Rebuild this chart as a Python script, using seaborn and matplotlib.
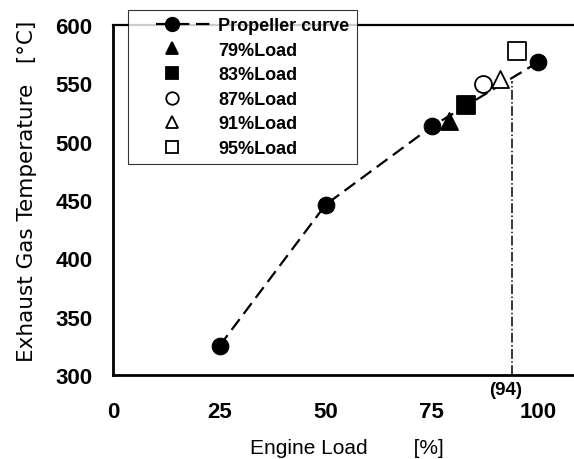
import matplotlib
matplotlib.use("Agg")
import matplotlib.pyplot as plt
import seaborn as sns
import pandas as pd
from matplotlib.lines import Line2D
from matplotlib.legend_handler import HandlerLine2D

# Data
prop_load = [25, 50, 75, 100]
prop_temp = [325, 446, 513, 568]
test_labels = ["79%Load", "83%Load", "87%Load", "91%Load", "95%Load"]
test_load = [79, 83, 87, 91, 95]
test_temp = [518, 531, 549, 554, 578]
test_markers = ["^", "s", "o", "^", "s"]
test_filled = [True, True, False, False, False]
x_ticks = [0, 25, 50, 75, 100]
y_ticks = [300, 350, 400, 450, 500, 550, 600]
mark_load = 94

sns.set_theme(style="white")
plt.rcParams['font.family'] = ['Liberation Sans', 'DejaVu Sans']
plt.rcParams['text.color'] = 'black'
plt.rcParams['xtick.color'] = 'black'
plt.rcParams['ytick.color'] = 'black'
plt.rcParams['xtick.labelcolor'] = 'black'
plt.rcParams['ytick.labelcolor'] = 'black'

fig = plt.figure(figsize=(5.74, 4.6), dpi=100)
ax = fig.add_axes([0.1977, 0.1826, 0.8023, 0.761])

DASH = (0, (6, 3))
df = pd.DataFrame({"load": prop_load, "temp": prop_temp})
sns.lineplot(data=df, x="load", y="temp", ax=ax, color="black", linestyle=DASH,
             linewidth=1.6, marker="o", markersize=12, markeredgecolor="black",
             markerfacecolor="black", legend=False, zorder=3)

for lab, xv, yv, m, f in zip(test_labels, test_load, test_temp, test_markers, test_filled):
    sns.scatterplot(x=[xv], y=[yv], ax=ax, marker=m, s=150,
                    facecolor="black" if f else "white", edgecolor="black",
                    linewidth=1.3, legend=False, zorder=4)

ax.plot([mark_load, mark_load], [300, 552], color="black", linestyle="-.", linewidth=1.1, zorder=2)
ax.text(92.3, 288, "(94)", ha="center", va="center", fontsize=13.5, fontweight="bold")

ax.set_xlim(0, 108.5)
ax.set_ylim(300, 600)
ax.set_xticks(x_ticks)
ax.set_yticks(y_ticks)
ax.tick_params(axis="both", direction="in", length=4, width=0.8, labelsize=16,
               color="black", labelcolor="black")
ax.tick_params(axis="y", pad=15)
ax.tick_params(axis="x", pad=19)
for t in ax.get_xticklabels() + ax.get_yticklabels():
    t.set_fontweight("bold")

for s in ["left", "bottom"]:
    ax.spines[s].set_linewidth(2.0)
    ax.spines[s].set_color("black")
ax.spines["top"].set_linewidth(1.6)
ax.spines["top"].set_color("black")
ax.spines["right"].set_visible(False)

ax.set_xlabel("")
ax.set_ylabel("")
fig.text(347 / 574, 5.5 / 460, "Engine Load        [%]", ha="center", va="baseline",
         fontsize=15, color="black")
fig.text(27 / 574, 1 - 191.5 / 460, "Exhaust Gas Temperature   [°C]", ha="center", va="center",
         rotation=90, fontsize=15.5, family="DejaVu Sans", color="black")


class OffsetHandler(HandlerLine2D):
    def create_artists(self, legend, orig_handle, xdescent, ydescent, width, height,
                       fontsize, trans):
        y = height / 2 - ydescent
        x0 = -xdescent
        arts = []
        if orig_handle.get_linestyle() not in ("None", "", " "):
            ln = Line2D([x0 + 0.28 * width, x0 + width], [y, y])
            self.update_prop(ln, orig_handle, legend)
            ln.set_marker("None")
            ln.set_transform(trans)
            arts.append(ln)
        mk = Line2D([x0 + 0.49 * width], [y])
        self.update_prop(mk, orig_handle, legend)
        mk.set_linestyle("None")
        mk.set_transform(trans)
        arts.append(mk)
        return arts


handles = [Line2D([], [], color="black", linestyle=DASH, linewidth=1.6, marker="o",
                  markersize=10, markerfacecolor="black", markeredgecolor="black")]
for m, f in zip(test_markers, test_filled):
    handles.append(Line2D([], [], linestyle="None", marker=m, markersize=9,
                          markerfacecolor="black" if f else "white",
                          markeredgecolor="black", markeredgewidth=1.3))
labels = ["Propeller curve"] + test_labels

leg = ax.legend(handles, labels, loc="upper left", bbox_to_anchor=(0.0315, 1.043),
                frameon=True, fancybox=False, edgecolor="black", fontsize=13,
                handlelength=4.2, labelspacing=0.42, borderpad=0.4, handletextpad=0.4,
                borderaxespad=0, handler_map={Line2D: OffsetHandler()})
leg.get_frame().set_linewidth(0.8)
for t in leg.get_texts():
    t.set_fontweight("bold")
    t.set_color("black")
leg.set_zorder(10)

fig.savefig("out.png", dpi=100)
